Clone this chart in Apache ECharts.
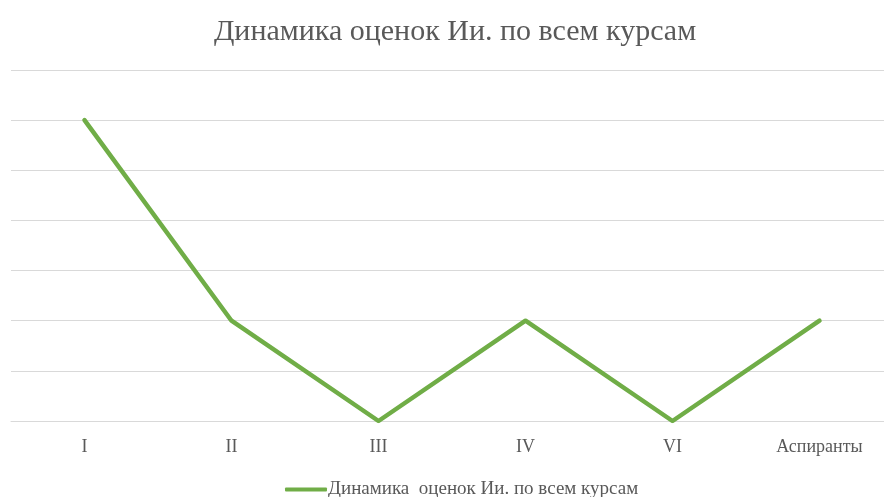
<!DOCTYPE html>
<html>
<head>
<meta charset="utf-8">
<script src="https://cdn.jsdelivr.net/npm/echarts@6/dist/echarts.min.js"></script>
<style>
html,body{margin:0;padding:0;background:#fff;}
#chart{width:884px;height:497px;}
</style>
</head>
<body>
<div id="chart"></div>
<script>
const chartTitle = 'Динамика оценок Ии. по всем курсам';
const seriesName = 'Динамика  оценок Ии. по всем курсам';
const categories = ['I', 'II', 'III', 'IV', 'VI', 'Аспиранты'];
const values = [6, 2, 0, 2, 0, 2];

const serif = '"Liberation Serif", "DejaVu Serif", serif';
const chart = echarts.init(document.getElementById('chart'));
chart.setOption({
  animation: false,
  backgroundColor: '#ffffff',
  title: {
    text: chartTitle,
    left: 450,
    textAlign: 'center',
    top: 12,
    textStyle: { fontFamily: serif, fontSize: 30, fontWeight: 'normal', color: '#595959' }
  },
  legend: {
    data: [seriesName],
    left: 280,
    top: 475,
    itemWidth: 42,
    itemHeight: 4,
    itemGap: 2,
    icon: 'roundRect',
    textStyle: { fontFamily: serif, fontSize: 19, color: '#595959', padding: [0, 0, 0, -4] }
  },
  grid: { left: 11, width: 882, top: 70, height: 351, containLabel: false, outerBoundsMode: 'none' },
  xAxis: {
    type: 'category',
    data: categories,
    boundaryGap: true,
    axisLine: { show: true, lineStyle: { color: '#d9d9d9', width: 1 } },
    axisTick: { show: false },
    axisLabel: { fontFamily: serif, fontSize: 18, color: '#595959', margin: 17 }
  },
  yAxis: {
    type: 'value',
    min: 0,
    max: 7,
    interval: 1,
    axisLine: { show: false },
    axisTick: { show: false },
    axisLabel: { show: false },
    splitLine: { lineStyle: { color: '#d9d9d9', width: 1 } }
  },
  series: [{
    name: seriesName,
    type: 'line',
    data: values,
    showSymbol: false,
    symbol: 'none',
    lineStyle: { color: '#70ad47', width: 4.5, join: 'round', cap: 'round' },
    itemStyle: { color: '#70ad47' }
  }]
});
</script>
</body>
</html>
